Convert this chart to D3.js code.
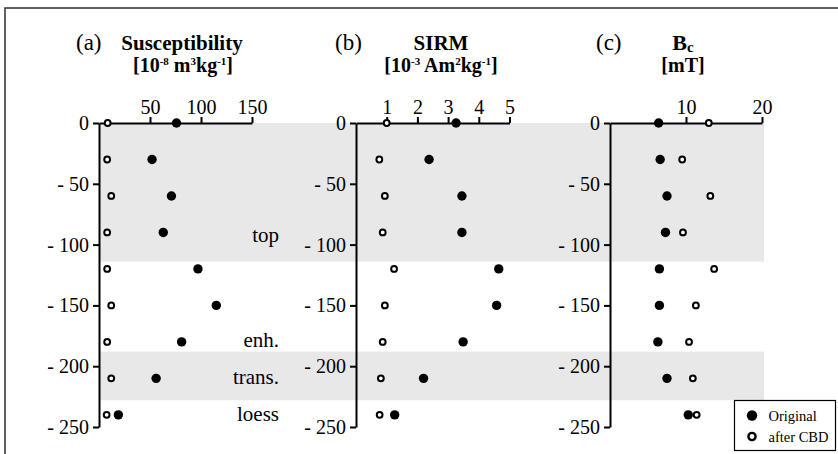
<!DOCTYPE html>
<html>
<head>
<meta charset="utf-8">
<script src="https://cdn.jsdelivr.net/npm/d3@7"></script>
<style>
  html, body { margin: 0; padding: 0; background: #fff; }
  svg { display: block; }
  svg text { font-family: "Liberation Serif", "Times New Roman", serif !important; fill: #000; }
</style>
</head>
<body>
<svg id="chart" width="838" height="454"></svg>
<script>
// Sampling depths (cm)
const depths = [0, -30, -60, -90, -120, -150, -180, -210, -240];

// Magnetic susceptibility [10^-8 m3/kg]
const susOriginal = [76, 52, 71, 63, 97, 115, 81, 56, 19];
const susCBD      = [8.5, 8, 12, 8, 8, 12, 8, 12, 7.5];

// SIRM [10^-3 Am2/kg]
const sirmOriginal = [3.26, 2.38, 3.45, 3.45, 4.65, 4.58, 3.49, 2.2, 1.26];
const sirmCBD      = [1.0, 0.76, 0.94, 0.87, 1.24, 0.94, 0.87, 0.81, 0.77];

// Coercivity Bc [mT]
const bcOriginal = [6.4, 6.6, 7.5, 7.3, 6.5, 6.5, 6.3, 7.5, 10.3];
const bcCBD      = [13.0, 9.5, 13.2, 9.6, 13.7, 11.3, 10.4, 10.9, 11.4];

// Axis ticks
const depthTicks = [0, -50, -100, -150, -200, -250];
const susTicks  = [50, 100, 150];
const sirmTicks = [1, 2, 3, 4, 5];
const bcTicks   = [10, 20];

// Soil horizons: shaded depth ranges and their labels
const shadedZones = [[0, -114], [-188, -228]];
const horizonNames  = ["top", "enh.", "trans.", "loess"];
const horizonDepths = [-98, -184, -214.5, -244.8];

const svg = d3.select("#chart");
const serif = "'Liberation Serif', 'Times New Roman', serif";

// Frame around the figure
svg.append("rect")
  .attr("x", 5).attr("y", 8).attr("width", 900).attr("height", 600)
  .attr("fill", "none").attr("stroke", "#3a3a3a").attr("stroke-width", 1.6);

const y = d3.scaleLinear().domain([0, -250]).range([123, 427]);

const panels = [
  { key: "a", x: d3.scaleLinear().domain([0, 150]).range([99, 252]),  ticks: susTicks,
    orig: susOriginal, cbd: susCBD, labelX: 76 },
  { key: "b", x: d3.scaleLinear().domain([0, 5]).range([356, 509.5]), ticks: sirmTicks,
    orig: sirmOriginal, cbd: sirmCBD, labelX: 335 },
  { key: "c", x: d3.scaleLinear().domain([0, 20]).range([610, 762]), ticks: bcTicks,
    orig: bcOriginal, cbd: bcCBD, labelX: 596 }
];

// Shaded horizons spanning all three panels
const bandX0 = panels[0].x(0) + 1;
const bandX1 = panels[2].x(20) + 2;
svg.append("g").selectAll("rect")
  .data(shadedZones)
  .join("rect")
  .attr("x", bandX0)
  .attr("width", bandX1 - bandX0)
  .attr("y", d => y(d[0]))
  .attr("height", d => y(d[1]) - y(d[0]))
  .attr("fill", "#e8e8e8");

// Horizon names
svg.append("g").selectAll("text")
  .data(horizonNames)
  .join("text")
  .attr("x", 279)
  .attr("y", (d, i) => y(horizonDepths[i]))
  .attr("text-anchor", "end")
  .attr("font-size", 21)
  .text(d => d);

const depthFormat = d => d === 0 ? "0" : "- " + Math.abs(d);

function styleAxis(g) {
  g.attr("font-family", serif).attr("font-size", 20);
  g.select(".domain").attr("stroke", "#000").attr("stroke-width", 2);
  g.selectAll(".tick line").attr("stroke", "#000").attr("stroke-width", 2);
  g.selectAll(".tick text")
    .style("font-family", serif)
    .attr("font-size", 20).attr("fill", "#000");
}

panels.forEach(p => {
  // depth axis
  const gy = svg.append("g")
    .attr("transform", `translate(${p.x(0)},0)`)
    .call(d3.axisLeft(y).tickValues(depthTicks).tickFormat(depthFormat)
      .tickSize(6).tickSizeOuter(0).tickPadding(4));
  styleAxis(gy);

  // value axis along the top
  const gx = svg.append("g")
    .attr("transform", `translate(0,${y(0)})`)
    .call(d3.axisTop(p.x).tickValues(p.ticks).tickFormat(d3.format("d"))
      .tickSize(6).tickSizeOuter(0).tickPadding(3));
  styleAxis(gx);

  // panel letter
  svg.append("text")
    .attr("x", p.labelX).attr("y", 50)
    .attr("font-size", 23)
    .text(`(${p.key})`);

  // original samples
  svg.append("g").selectAll("circle")
    .data(p.orig)
    .join("circle")
    .attr("cx", d => p.x(d))
    .attr("cy", (d, i) => y(depths[i]))
    .attr("r", 4.7)
    .attr("fill", "#000");

  // samples after CBD treatment
  svg.append("g").selectAll("circle")
    .data(p.cbd)
    .join("circle")
    .attr("cx", d => p.x(d))
    .attr("cy", (d, i) => y(depths[i]))
    .attr("r", 2.9)
    .attr("fill", "#fff")
    .attr("stroke", "#000")
    .attr("stroke-width", 2);
});

// Panel titles with units
function title(x, parts, yPos) {
  const t = svg.append("text")
    .attr("x", x).attr("y", yPos)
    .attr("text-anchor", "middle")
    .attr("font-weight", "bold")
    .attr("font-size", 20);
  parts.forEach(([s, kind]) => {
    const ts = t.append("tspan").text(s);
    if (kind === "sup") ts.attr("font-size", 11).attr("baseline-shift", "7");
    if (kind === "sub") ts.attr("font-size", 15).attr("baseline-shift", "-2");
  });
  return t;
}

title(182, [["Susceptibility"]], 50).attr("font-size", 21);
title(183, [["[10"], ["-8", "sup"], [" m"], ["3", "sup"], ["kg"], ["-1", "sup"], ["]"]], 72);

title(441, [["SIRM"]], 50).attr("font-size", 21);
title(441, [["[10"], ["-3", "sup"], [" Am"], ["2", "sup"], ["kg"], ["-1", "sup"], ["]"]], 72);

title(683, [["B"], ["c", "sub"]], 50).attr("font-size", 22);
title(683, [["[mT]"]], 72);

// Legend
const legend = svg.append("g");
legend.append("rect")
  .attr("x", 734.5).attr("y", 400.5).attr("width", 101).attr("height", 50)
  .attr("fill", "#fff").attr("stroke", "#000").attr("stroke-width", 1.2);
const legendItems = ["Original", "after CBD"];
legendItems.forEach((name, i) => {
  const cy = 415.5 + i * 21;
  if (i === 0) {
    legend.append("circle").attr("cx", 752).attr("cy", cy).attr("r", 5.2).attr("fill", "#000");
  } else {
    legend.append("circle").attr("cx", 752).attr("cy", cy).attr("r", 3.6)
      .attr("fill", "#fff").attr("stroke", "#000").attr("stroke-width", 2.4);
  }
  legend.append("text")
    .attr("x", 768.5).attr("y", cy + 5)
    .attr("font-size", 14.5)
    .text(name);
});
</script>
</body>
</html>
